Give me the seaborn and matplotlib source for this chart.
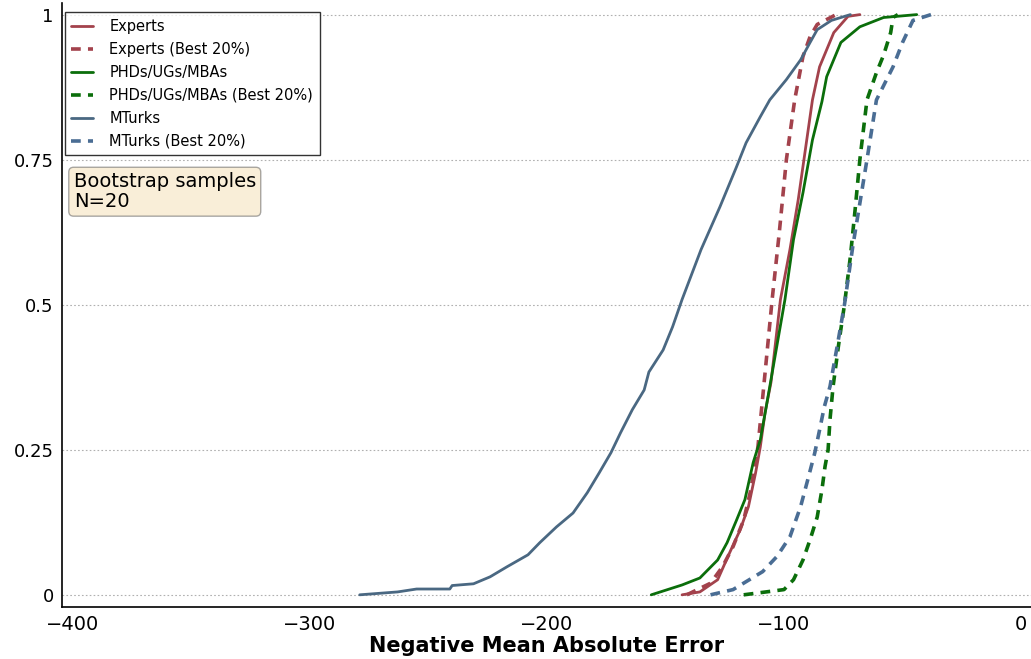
import numpy as np
import pandas as pd
import matplotlib
matplotlib.use("Agg")
import matplotlib.pyplot as plt
import seaborn as sns

# ---- data ----
experts_x = [-143, -135.5, -128, -123, -118.5, -115, -112, -110, -108, -105.5, -101.5, -97.5, -94, -91, -88, -85, -79, -73, -68]
experts_y = [0.0, 0.005, 0.026, 0.072, 0.112, 0.152, 0.21, 0.255, 0.314, 0.366, 0.509, 0.595, 0.681, 0.767, 0.853, 0.91, 0.969, 0.997, 1.0]

experts_best_x = [-141, -131, -126, -121.5, -117, -114, -111, -109, -105, -102, -99, -95.5, -92, -89, -86, -78]
experts_best_y = [0.0, 0.02, 0.048, 0.083, 0.129, 0.181, 0.255, 0.34, 0.509, 0.624, 0.75, 0.853, 0.928, 0.962, 0.983, 1.0]

phd_x = [-156, -143, -135.5, -128, -124, -120, -116.5, -113, -110, -107.5, -106, -99.6, -96, -92, -88, -84, -82, -76, -68, -58, -44]
phd_y = [0.0, 0.017, 0.029, 0.06, 0.09, 0.129, 0.164, 0.228, 0.267, 0.324, 0.359, 0.509, 0.612, 0.693, 0.784, 0.85, 0.893, 0.952, 0.979, 0.995, 1.0]

phd_best_x = [-117, -100, -96, -92, -89, -86, -84, -82.7, -81.4, -80.6, -79.3, -77, -74.5, -72, -70, -68, -65, -61, -58, -55, -54, -52]
phd_best_y = [0.0, 0.009, 0.026, 0.06, 0.095, 0.134, 0.181, 0.221, 0.25, 0.302, 0.359, 0.43, 0.5, 0.583, 0.664, 0.75, 0.853, 0.9, 0.93, 0.969, 0.995, 1.0]

mturk_x = [-279, -263, -255, -241, -240, -231, -224, -217, -208, -203, -196, -189, -183, -178, -173, -169, -164, -159, -157, -151, -147, -143,
           -135, -127, -120, -116, -110, -106, -99, -93, -89, -86, -80, -72]
mturk_y = [0.0, 0.005, 0.01, 0.01, 0.016, 0.019, 0.031, 0.048, 0.069, 0.09, 0.117, 0.141, 0.176, 0.21, 0.245, 0.279, 0.319, 0.353, 0.384, 0.422, 0.462, 0.509,
           0.595, 0.669, 0.738, 0.779, 0.824, 0.853, 0.888, 0.922, 0.952, 0.974, 0.99, 1.0]

mturk_best_x = [-131, -121.5, -109, -103, -97.5, -93, -90, -87, -85, -83, -80.6, -77.5, -74.5, -71, -65, -61, -54, -50, -45.6, -38]
mturk_best_y = [0.0, 0.009, 0.04, 0.066, 0.1, 0.152, 0.198, 0.245, 0.284, 0.324, 0.359, 0.43, 0.5, 0.6, 0.75, 0.853, 0.91, 0.952, 0.99, 1.0]

series = [
    ("Experts", experts_x, experts_y),
    ("Experts (Best 20%)", experts_best_x, experts_best_y),
    ("PHDs/UGs/MBAs", phd_x, phd_y),
    ("PHDs/UGs/MBAs (Best 20%)", phd_best_x, phd_best_y),
    ("MTurks", mturk_x, mturk_y),
    ("MTurks (Best 20%)", mturk_best_x, mturk_best_y),
]
colors = ["#a3424c", "#a3424c", "#0b6e0b", "#0b6e0b", "#4a6882", "#4a6d94"]
dashed = [False, True, False, True, False, True]

yticks = [0, 0.25, 0.5, 0.75, 1]
ytick_labels = ["0", "0.25", "0.5", "0.75", "1"]
xticks = [-400, -300, -200, -100, 0]
xtick_labels = ["\u2212400", "\u2212300", "\u2212200", "\u2212100", "0"]

# ---- plot ----
sns.set_style("white")
plt.rcParams['font.family'] = ['DejaVu Sans']
plt.rcParams['text.color'] = 'black'
plt.rcParams['axes.labelcolor'] = 'black'
fig = plt.figure(figsize=(10.31, 6.59), dpi=100)
ax = fig.add_axes([62 / 1031, 1 - 607 / 659, (1031 - 62) / 1031, (607 - 3) / 659])

for (name, xs, ys), c, d in zip(series, colors, dashed):
    df = pd.DataFrame({"x": xs, "y": ys})
    sns.lineplot(data=df, x="x", y="y", ax=ax, sort=False, estimator=None,
                 color=c, linewidth=2.6 if d else 2.0,
                 linestyle=(0, (2.7, 2.0)) if d else "-", label=name)

ax.set_xlim(-404.6, 4.2)
ax.set_ylim(-0.021, 1.02)
ax.set_yticks(yticks)
ax.set_yticklabels(ytick_labels)
ax.set_xticks(xticks)
ax.set_xticklabels(xtick_labels)
ax.tick_params(axis="y", labelsize=13, direction="out", length=4, width=1, colors="black", pad=2)
ax.tick_params(axis="x", labelsize=14, direction="out", length=4, width=1, colors="black", pad=2)
ax.set_ylabel("")
ax.set_xlabel("Negative Mean Absolute Error", fontsize=15, fontweight="bold", labelpad=1, color="black")
ax.yaxis.grid(True, linestyle=(0, (1.5, 2)), color="#b0b0b0", linewidth=0.8)
ax.xaxis.grid(False)
for s in ["top", "right"]:
    ax.spines[s].set_visible(False)
for s in ["left", "bottom"]:
    ax.spines[s].set_color("black")
    ax.spines[s].set_linewidth(1.2)

leg = ax.legend(loc="upper left", bbox_to_anchor=(0.003, 0.985), fontsize=10.5,
                frameon=True, fancybox=False, handlelength=1.5, handletextpad=1.1,
                labelspacing=0.55, borderpad=0.45, borderaxespad=0.0, edgecolor="black")
leg.get_frame().set_linewidth(1.0)
for t in leg.get_texts():
    t.set_color("black")

ax.text(0.012, 0.72, "Bootstrap samples\nN=20", transform=ax.transAxes, fontsize=14,
        va="top", ha="left", linespacing=1.08, color="black",
        bbox=dict(boxstyle="round,pad=0.25", facecolor="wheat", alpha=0.5, edgecolor="#555555"))

fig.savefig("out.png", dpi=100)
